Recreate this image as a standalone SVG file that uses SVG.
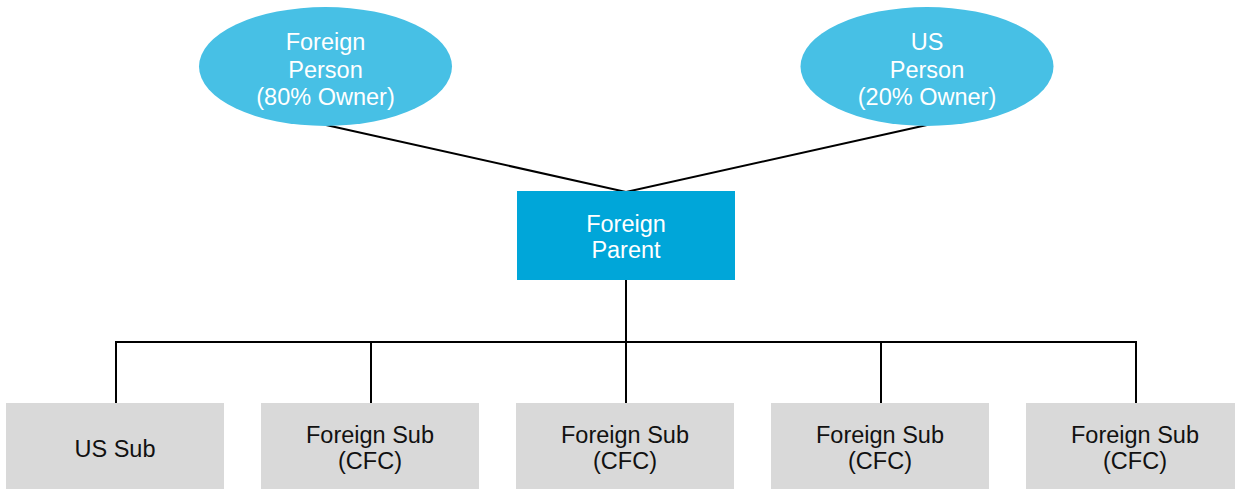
<svg xmlns="http://www.w3.org/2000/svg" width="1235" height="489" viewBox="0 0 1235 489">
<style>
.ell{fill:#47c0e5}
.par{fill:#00a6d9}
.sub{fill:#d9d9d9}
.wt{font-family:"Liberation Sans",Arial,sans-serif;font-size:23.5px;fill:#ffffff;text-anchor:middle}
.bt{font-family:"Liberation Sans",Arial,sans-serif;font-size:23.5px;fill:#111111;text-anchor:middle}
.ln{stroke:#000;stroke-width:2;fill:none}
</style>
<rect width="1235" height="489" fill="#ffffff"/>
<g id="connectors">
<path class="ln" d="M326,125 L626,192 L927,125"/>
<path class="ln" d="M626,280 V342 M116,404 V342 H1136 V404 M371,342 V404 M626,342 V404 M881,342 V404"/>
</g>
<g id="foreign-person">
<ellipse class="ell" cx="325.5" cy="66.5" rx="126.5" ry="59.5"/>
<text class="wt" x="325.5" y="50">Foreign</text>
<text class="wt" x="325.5" y="78">Person</text>
<text class="wt" x="325.5" y="105">(80% Owner)</text>
</g>
<g id="us-person">
<ellipse class="ell" cx="927" cy="66.5" rx="126.5" ry="59.5"/>
<text class="wt" x="927" y="50">US</text>
<text class="wt" x="927" y="78">Person</text>
<text class="wt" x="927" y="105">(20% Owner)</text>
</g>
<g id="foreign-parent">
<rect class="par" x="517" y="191" width="218" height="89"/>
<text class="wt" x="626" y="231.5">Foreign</text>
<text class="wt" x="626" y="258">Parent</text>
</g>
<g id="us-sub">
<rect class="sub" x="6" y="403" width="218" height="90"/>
<text class="bt" x="115" y="457">US Sub</text>
</g>
<g id="foreign-sub-1">
<rect class="sub" x="261" y="403" width="218" height="90"/>
<text class="bt" x="370" y="443">Foreign Sub</text>
<text class="bt" x="370" y="469">(CFC)</text>
</g>
<g id="foreign-sub-2">
<rect class="sub" x="516" y="403" width="218" height="90"/>
<text class="bt" x="625" y="443">Foreign Sub</text>
<text class="bt" x="625" y="469">(CFC)</text>
</g>
<g id="foreign-sub-3">
<rect class="sub" x="771" y="403" width="218" height="90"/>
<text class="bt" x="880" y="443">Foreign Sub</text>
<text class="bt" x="880" y="469">(CFC)</text>
</g>
<g id="foreign-sub-4">
<rect class="sub" x="1026" y="403" width="218" height="90"/>
<text class="bt" x="1135" y="443">Foreign Sub</text>
<text class="bt" x="1135" y="469">(CFC)</text>
</g>
</svg>
